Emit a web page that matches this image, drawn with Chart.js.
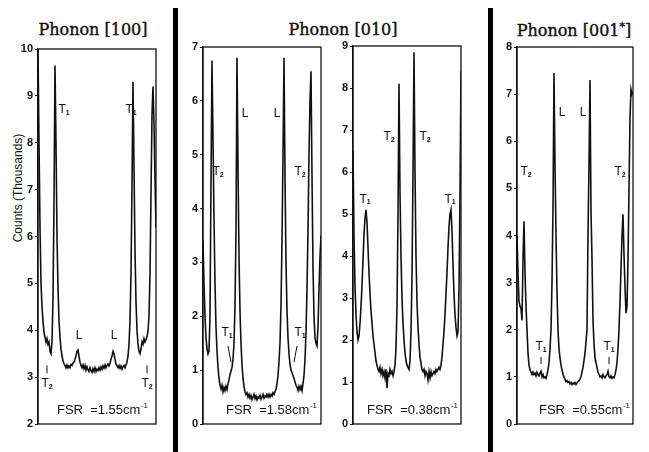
<!DOCTYPE html>
<html>
<head>
<meta charset="utf-8">
<script src="https://cdn.jsdelivr.net/npm/chart.js@4.4.1/dist/chart.umd.min.js"></script>
<style>
  body { margin: 0; background: #fff; }
  #page { position: relative; width: 649px; height: 452px; overflow: hidden; background: #fff; }
  canvas { position: absolute; top: 0; }
  .title { position: absolute; top: 20px; font-family: "DejaVu Serif", serif; font-size: 16px; color: #111; white-space: nowrap; transform: translateX(-50%); -webkit-text-stroke: 0.4px #111; }
  .title sup { font-size: 11px; }
  .bar { position: absolute; top: 8px; height: 444px; width: 5px; background: #000; }
  .ylab { position: absolute; left: 18px; top: 188px; font-family: "Liberation Sans", sans-serif; font-size: 12px; color: #111; white-space: nowrap; transform: translate(-50%, -50%) rotate(-90deg); }
</style>
</head>
<body>
<div id="page">
  <div class="title" style="left:93px">Phonon [100]</div>
  <div class="title" style="left:343px">Phonon [010]</div>
  <div class="title" style="left:574px">Phonon [001<sup>*</sup>]</div>
  <div class="ylab">Counts (Thousands)</div>
  <div class="bar" style="left:173px"></div>
  <div class="bar" style="left:488px"></div>
  <canvas id="c100" width="170" height="452" style="left:0px"></canvas>
  <canvas id="c010a" width="145" height="452" style="left:180px"></canvas>
  <canvas id="c010b" width="135" height="452" style="left:330px"></canvas>
  <canvas id="c001" width="150" height="452" style="left:495px"></canvas>
</div>
<script>
// spectra: [channel, counts in thousands]
const spec100 = [[0,10.0],[1,8.0],[2,6.2],[3,5.0],[4,4.5],[5,4.2],[6,3.95],[7,3.85],[8,3.75],[9,3.82],[10,3.7],[11,3.75],[12,3.55],[13,3.5],[14,3.75],[15,4.7],[16,6.7],[17,9.65],[18,8.0],[19,6.0],[20,4.9],[21,4.2],[22,3.85],[23,3.6],[24,3.45],[25,3.35],[26,3.28],[27,3.25],[28,3.2],[29,3.26],[30,3.2],[31,3.24],[32,3.2],[33,3.27],[34,3.25],[35,3.3],[36,3.32],[37,3.38],[38,3.45],[39,3.55],[40,3.58],[41,3.45],[42,3.32],[43,3.25],[44,3.2],[45,3.26],[46,3.18],[47,3.25],[48,3.15],[49,3.22],[50,3.16],[51,3.12],[52,3.2],[53,3.14],[54,3.1],[55,3.18],[56,3.12],[57,3.2],[58,3.12],[59,3.17],[60,3.14],[61,3.2],[62,3.15],[63,3.22],[64,3.17],[65,3.24],[66,3.19],[67,3.26],[68,3.2],[69,3.25],[70,3.28],[71,3.24],[72,3.3],[73,3.38],[74,3.45],[75,3.55],[76,3.5],[77,3.38],[78,3.28],[79,3.24],[80,3.2],[81,3.25],[82,3.19],[83,3.24],[84,3.17],[85,3.22],[86,3.25],[87,3.2],[88,3.26],[89,3.32],[90,3.45],[91,3.7],[92,4.2],[93,5.2],[94,7.1],[95,9.3],[96,7.5],[97,5.7],[98,4.6],[99,4.0],[100,3.7],[101,3.55],[102,3.5],[103,3.6],[104,3.75],[105,3.7],[106,3.82],[107,3.75],[108,3.8],[109,3.86],[110,3.98],[111,4.3],[112,5.2],[113,6.9],[114,8.6],[115,9.2],[116,8.4],[117,7.2],[118,6.2]];

const spec010a = [[0,3.4],[1,2.6],[2,2.0],[3,1.6],[4,1.4],[5,1.3],[6,1.35],[7,2.0],[8,4.5],[9,6.75],[10,5.3],[11,3.8],[12,2.6],[13,1.8],[14,1.35],[15,1.05],[16,0.85],[17,0.72],[18,0.65],[19,0.72],[20,0.6],[21,0.68],[22,0.62],[23,0.7],[24,0.64],[25,0.75],[26,0.82],[27,0.92],[28,0.98],[29,1.05],[30,1.2],[31,1.5],[32,2.2],[33,3.6],[34,6.8],[35,4.8],[36,3.1],[37,2.1],[38,1.5],[39,1.1],[40,0.85],[41,0.7],[42,0.6],[43,0.55],[44,0.58],[45,0.5],[46,0.55],[47,0.48],[48,0.53],[49,0.45],[50,0.5],[51,0.55],[52,0.47],[53,0.52],[54,0.45],[55,0.5],[56,0.48],[57,0.53],[58,0.46],[59,0.5],[60,0.55],[61,0.48],[62,0.52],[63,0.5],[64,0.55],[65,0.5],[66,0.55],[67,0.5],[68,0.55],[69,0.52],[70,0.58],[71,0.55],[72,0.6],[73,0.65],[74,0.75],[75,0.9],[76,1.15],[77,1.5],[78,2.2],[79,3.4],[80,5.0],[81,6.8],[82,4.6],[83,3.0],[84,2.1],[85,1.6],[86,1.3],[87,1.1],[88,1.0],[89,0.95],[90,0.9],[91,0.85],[92,0.78],[93,0.72],[94,0.68],[95,0.62],[96,0.7],[97,0.64],[98,0.7],[99,0.62],[100,0.75],[101,0.9],[102,1.2],[103,1.7],[104,2.5],[105,3.6],[106,5.0],[107,6.0],[108,6.55],[109,4.6],[110,2.9],[111,2.0],[112,1.6],[113,1.5],[114,1.45],[115,1.8],[116,2.5],[117,3.1],[118,3.5]];

const spec010b = [[0,6.5],[1,4.5],[2,3.3],[3,2.6],[4,2.2],[5,2.0],[6,2.1],[7,2.4],[8,2.8],[9,3.3],[10,3.9],[11,4.5],[12,4.9],[13,5.1],[14,4.8],[15,4.2],[16,3.6],[17,3.1],[18,2.7],[19,2.4],[20,2.1],[21,1.9],[22,1.7],[23,1.5],[24,1.4],[25,1.3],[26,1.25],[27,1.35],[28,1.2],[29,1.3],[30,1.15],[31,1.25],[32,1.1],[33,1.3],[34,0.85],[35,1.2],[36,1.15],[37,1.3],[38,1.2],[39,1.25],[40,1.15],[41,1.25],[42,1.4],[43,1.8],[44,2.8],[45,5.0],[46,8.1],[47,5.5],[48,4.0],[49,3.0],[50,2.4],[51,2.0],[52,1.7],[53,1.5],[54,1.4],[55,1.35],[56,1.3],[57,1.5],[58,2.2],[59,3.5],[60,6.0],[61,8.85],[62,6.0],[63,4.0],[64,2.9],[65,2.3],[66,1.9],[67,1.6],[68,1.45],[69,1.3],[70,1.25],[71,1.3],[72,1.15],[73,1.25],[74,1.2],[75,1.05],[76,1.25],[77,1.1],[78,1.25],[79,1.15],[80,1.2],[81,1.25],[82,1.2],[83,1.3],[84,1.25],[85,1.3],[86,1.35],[87,1.3],[88,1.4],[89,1.6],[90,1.9],[91,2.2],[92,2.6],[93,3.1],[94,3.6],[95,4.2],[96,4.7],[97,5.0],[98,5.1],[99,4.6],[100,3.8],[101,3.1],[102,2.6],[103,2.3],[104,2.1],[105,2.2],[106,3.2],[107,5.5],[108,8.4]];

const spec001 = [[0,4.0],[1,3.2],[2,2.6],[3,2.5],[4,2.45],[5,2.2],[6,3.5],[7,4.3],[8,3.2],[9,2.5],[10,2.0],[11,1.5],[12,1.25],[13,1.15],[14,1.1],[15,1.05],[16,1.1],[17,1.05],[18,1.08],[19,1.02],[20,1.1],[21,1.05],[22,1.02],[23,1.08],[24,1.12],[25,1.0],[26,1.05],[27,0.98],[28,1.0],[29,0.97],[30,1.05],[31,1.15],[32,1.3],[33,1.6],[34,2.0],[35,3.0],[36,4.6],[37,7.45],[38,5.5],[39,4.0],[40,2.8],[41,2.0],[42,1.6],[43,1.4],[44,1.25],[45,1.15],[46,1.05],[47,1.0],[48,0.95],[49,0.9],[50,0.92],[51,0.88],[52,0.9],[53,0.85],[54,0.88],[55,0.84],[56,0.87],[57,0.85],[58,0.88],[59,0.84],[60,0.87],[61,0.9],[62,0.92],[63,0.95],[64,1.0],[65,1.1],[66,1.2],[67,1.35],[68,1.5],[69,1.75],[70,2.0],[71,4.0],[72,5.5],[73,7.3],[74,4.5],[75,3.5],[76,2.2],[77,1.7],[78,1.4],[79,1.3],[80,1.2],[81,1.1],[82,1.05],[83,1.0],[84,1.02],[85,0.98],[86,1.05],[87,1.0],[88,0.98],[89,1.02],[90,1.05],[91,1.12],[92,1.0],[93,0.98],[94,1.02],[95,0.97],[96,1.0],[97,0.98],[98,1.05],[99,1.15],[100,1.3],[101,1.6],[102,2.0],[103,2.6],[104,3.3],[105,4.0],[106,4.45],[107,3.6],[108,2.9],[109,2.35],[110,2.5],[111,3.5],[112,5.0],[113,6.5],[114,7.1],[115,7.0],[116,7.05]];

// free spectral ranges (cm^-1)
const fsr = ['1.55', '1.58', '0.38', '0.55'];

// peak labels: channel, counts, letter, subscript, optional pointer line
const labels100 = [
  { ch: 26, val: 8.7, t: 'T', sub: '1' },
  { ch: 93, val: 8.7, t: 'T', sub: '1' },
  { ch: 41, val: 3.88, t: 'L' },
  { ch: 76, val: 3.88, t: 'L' },
  { ch: 9, val: 2.85, t: 'T', sub: '2', mark: [[9, 3.25], [9, 3.08]] },
  { ch: 109, val: 2.85, t: 'T', sub: '2', mark: [[109, 3.25], [109, 3.08]] }
];
const labels010a = [
  { ch: 15, val: 4.68, t: 'T', sub: '2' },
  { ch: 42, val: 5.77, t: 'L' },
  { ch: 74, val: 5.77, t: 'L' },
  { ch: 97, val: 4.68, t: 'T', sub: '2' },
  { ch: 24, val: 1.69, t: 'T', sub: '1', mark: [[25, 1.45], [28, 1.15]] },
  { ch: 97, val: 1.69, t: 'T', sub: '1', mark: [[94, 1.45], [91, 1.15]] }
];
const labels010b = [
  { ch: 12, val: 5.35, t: 'T', sub: '1' },
  { ch: 36, val: 6.83, t: 'T', sub: '2' },
  { ch: 72, val: 6.83, t: 'T', sub: '2' },
  { ch: 97, val: 5.35, t: 'T', sub: '1' }
];
const labels001 = [
  { ch: 9, val: 5.35, t: 'T', sub: '2' },
  { ch: 45, val: 6.6, t: 'L' },
  { ch: 66, val: 6.6, t: 'L' },
  { ch: 103, val: 5.35, t: 'T', sub: '2' },
  { ch: 24, val: 1.63, t: 'T', sub: '1', mark: [[24, 1.42], [24, 1.27]] },
  { ch: 92, val: 1.63, t: 'T', sub: '1', mark: [[92, 1.42], [92, 1.27]] }
];

const panelDecor = {
  id: 'panelDecor',
  afterDatasetsDraw(chart, args, opts) {
    const ctx = chart.ctx;
    const a = chart.chartArea;
    const xs = chart.scales.x, ys = chart.scales.y;
    ctx.save();
    ctx.strokeStyle = '#111';
    ctx.lineWidth = 1.3;
    ctx.strokeRect(a.left, a.top, a.right - a.left, a.bottom - a.top);

    ctx.fillStyle = '#111';
    ctx.textBaseline = 'middle';
    for (const lab of opts.labels) {
      const px = xs.getPixelForValue(lab.ch);
      const py = ys.getPixelForValue(lab.val);
      ctx.font = '12px "Liberation Sans"';
      const w = ctx.measureText(lab.t).width;
      ctx.textAlign = 'left';
      let sw = 0;
      if (lab.sub) {
        ctx.font = 'bold 7px "Liberation Sans"';
        sw = ctx.measureText(lab.sub).width;
      }
      const x0 = px - (w + sw) / 2;
      ctx.font = '12px "Liberation Sans"';
      ctx.fillText(lab.t, x0, py);
      if (lab.sub) {
        ctx.font = 'bold 7px "Liberation Sans"';
        ctx.fillText(lab.sub, x0 + w, py + 3);
      }
      if (lab.mark) {
        ctx.lineWidth = 1;
        ctx.beginPath();
        ctx.moveTo(xs.getPixelForValue(lab.mark[0][0]), ys.getPixelForValue(lab.mark[0][1]));
        ctx.lineTo(xs.getPixelForValue(lab.mark[1][0]), ys.getPixelForValue(lab.mark[1][1]));
        ctx.stroke();
      }
    }

    // FSR note, right aligned near the bottom of the box
    const ty = a.bottom - 14;
    let xr = a.right - opts.fsrPad;
    ctx.textAlign = 'right';
    ctx.font = '8px "Liberation Sans"';
    ctx.fillText('-1', xr, ty - 4);
    xr -= ctx.measureText('-1').width + 0.5;
    ctx.font = '13px "Liberation Sans"';
    ctx.fillText('FSR  =' + opts.fsr + 'cm', xr, ty);
    ctx.restore();
  }
};

function makePanel(id, spec, labels, fsrText, p) {
  const canvas = document.getElementById(id);
  return new Chart(canvas, {
    type: 'line',
    data: {
      datasets: [{
        data: spec.map(d => ({ x: d[0], y: d[1] })),
        borderColor: '#111',
        borderWidth: 1.6,
        pointRadius: 0,
        tension: 0,
        fill: false
      }]
    },
    options: {
      responsive: false,
      animation: false,
      layout: { padding: { top: p.top, bottom: canvas.height - p.bottom, left: 0, right: p.right } },
      plugins: {
        legend: { display: false },
        tooltip: { enabled: false },
        panelDecor: { labels: labels, fsr: fsrText, fsrPad: p.fsrPad }
      },
      scales: {
        x: { type: 'linear', display: false, min: 0, max: p.xmax },
        y: {
          min: p.ymin,
          max: p.ymax,
          afterFit: (s) => { s.width = p.axisW; },
          ticks: {
            stepSize: 1,
            color: '#111',
            padding: 2,
            font: { family: 'Liberation Sans', size: 11, weight: 'bold' }
          },
          grid: { drawOnChartArea: false, tickLength: 3, color: '#111', lineWidth: 1 },
          border: { color: '#111', width: 1.3 }
        }
      }
    },
    plugins: [panelDecor]
  });
}

makePanel('c100', spec100, labels100, fsr[0], { top: 49, bottom: 424, right: 14, axisW: 38, xmax: 118, ymin: 2, ymax: 10, fsrPad: 8 });
makePanel('c010a', spec010a, labels010a, fsr[1], { top: 47, bottom: 424, right: 4, axisW: 23, xmax: 118, ymin: 0, ymax: 7, fsrPad: 4 });
makePanel('c010b', spec010b, labels010b, fsr[2], { top: 46, bottom: 424, right: 4, axisW: 23, xmax: 108, ymin: 0, ymax: 9, fsrPad: 3 });
makePanel('c001', spec001, labels001, fsr[3], { top: 47, bottom: 424, right: 12, axisW: 22, xmax: 116, ymin: 0, ymax: 8, fsrPad: 3 });
</script>
</body>
</html>
